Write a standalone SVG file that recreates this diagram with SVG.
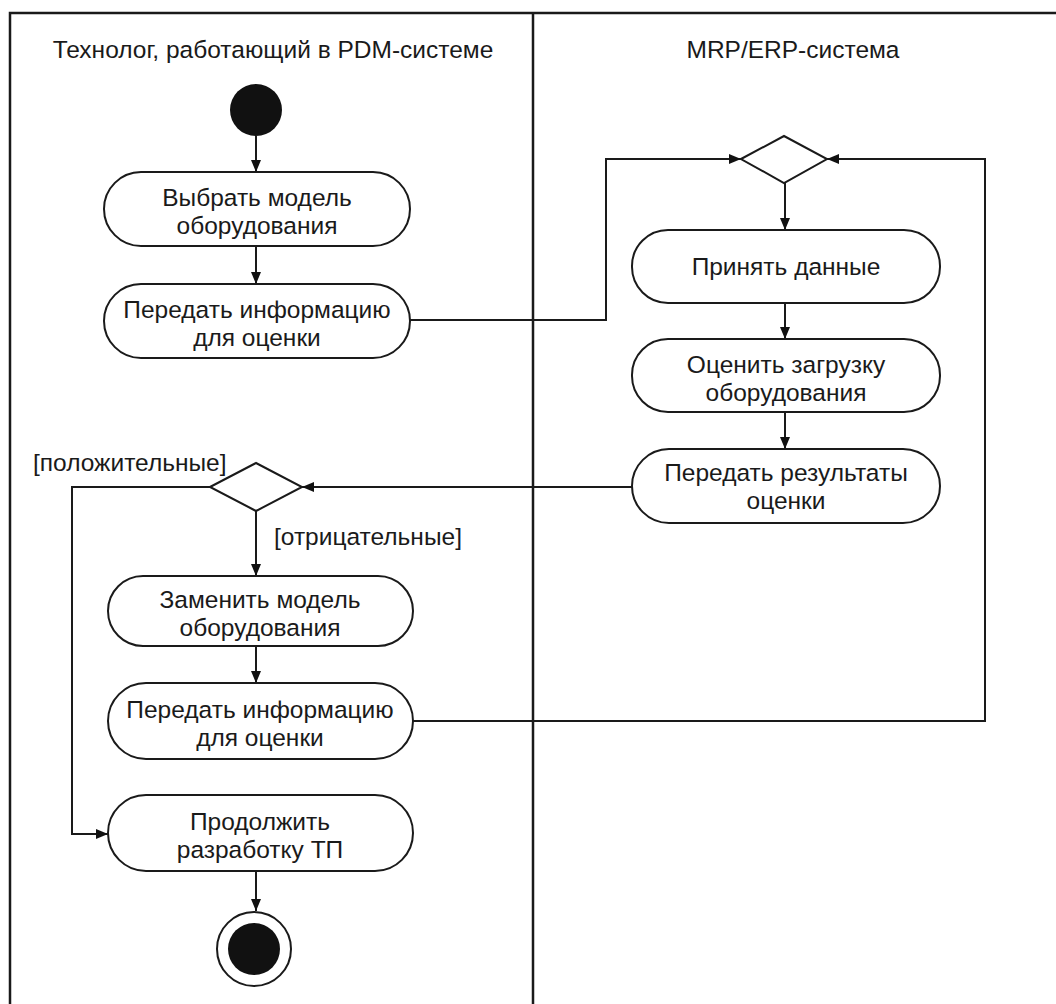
<svg xmlns="http://www.w3.org/2000/svg" width="1056" height="1004" viewBox="0 0 1056 1004">
<style>
text{font-family:"Liberation Sans",Arial,sans-serif;font-size:24.5px;fill:#1a1a1a;text-anchor:middle}
.lbl{text-anchor:start}
.node{fill:#fff;stroke:#1a1a1a;stroke-width:2}
.lane{fill:none;stroke:#1a1a1a;stroke-width:2.5}
.edge{fill:none;stroke:#1a1a1a;stroke-width:2;marker-end:url(#arr)}
.fill{fill:#111;stroke:none}
</style>
<defs>
<marker id="arr" viewBox="0 0 12 10" refX="12" refY="5" markerWidth="12" markerHeight="10" markerUnits="userSpaceOnUse" orient="auto">
<path d="M0,0 L12,5 L0,10 Z" fill="#111"/>
</marker>
</defs>
<rect width="1056" height="1004" fill="#fff"/>
<g id="lanes">
<path class="lane" d="M10,1004 V13 H1056 M533,13 V1004"/>
<text x="273" y="58">Технолог, работающий в PDM-системе</text>
<text x="793" y="58">MRP/ERP-система</text>
</g>
<g id="connectors">
<path class="edge" d="M256,136 V172"/>
<path class="edge" d="M256,246 V284"/>
<path class="edge" d="M410,320 H606 V159 H741"/>
<path class="edge" d="M785,183 V230"/>
<path class="edge" d="M785,303 V339"/>
<path class="edge" d="M785,412 V449"/>
<path class="edge" d="M632,487 H302"/>
<path class="edge" d="M210,487 H72 V834 H108"/>
<path class="edge" d="M256,511 V576"/>
<path class="edge" d="M256,646 V683"/>
<path class="edge" d="M413,721 H985 V159 H827"/>
<path class="edge" d="M256,871 V911"/>
<text class="lbl" x="33" y="471">[положительные]</text>
<text class="lbl" x="274" y="545">[отрицательные]</text>
</g>
<g id="start"><circle class="fill" cx="256" cy="110" r="26"/></g>
<g id="n1"><rect class="node" x="104" y="172" width="306" height="74" rx="37"/><text x="257" y="206">Выбрать модель</text><text x="257" y="234">оборудования</text></g>
<g id="n2"><rect class="node" x="104" y="284" width="306" height="74" rx="37"/><text x="257" y="318">Передать информацию</text><text x="257" y="346">для оценки</text></g>
<g id="d1"><path class="node" d="M741,159 L784,136 L827,159 L784,183 Z"/></g>
<g id="n3"><rect class="node" x="632" y="230" width="308" height="73" rx="36"/><text x="786" y="275">Принять данные</text></g>
<g id="n4"><rect class="node" x="632" y="339" width="308" height="73" rx="36"/><text x="786" y="373">Оценить загрузку</text><text x="786" y="401">оборудования</text></g>
<g id="n5"><rect class="node" x="632" y="449" width="308" height="74" rx="37"/><text x="786" y="481">Передать результаты</text><text x="786" y="509">оценки</text></g>
<g id="d2"><path class="node" d="M210,487 L256,463 L302,487 L256,511 Z"/></g>
<g id="n6"><rect class="node" x="108" y="576" width="305" height="70" rx="35"/><text x="260" y="608">Заменить модель</text><text x="260" y="636">оборудования</text></g>
<g id="n7"><rect class="node" x="108" y="683" width="305" height="76" rx="38"/><text x="260" y="718">Передать информацию</text><text x="260" y="746">для оценки</text></g>
<g id="n8"><rect class="node" x="108" y="795" width="305" height="76" rx="38"/><text x="260" y="830">Продолжить</text><text x="260" y="858">разработку ТП</text></g>
<g id="end"><circle cx="254" cy="949" r="37" fill="#fff" stroke="#1a1a1a" stroke-width="2"/><circle class="fill" cx="254" cy="949" r="26"/></g>
</svg>
